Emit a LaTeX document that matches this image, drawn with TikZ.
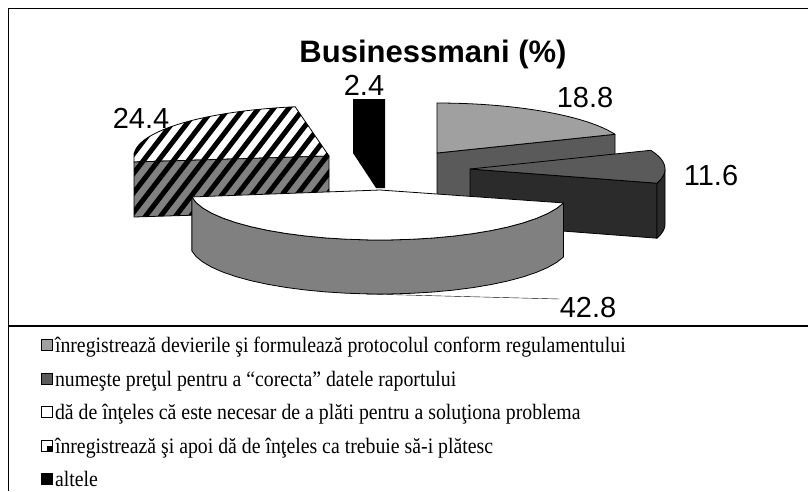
\documentclass[tikz,border=0pt]{standalone}
\usepackage{fontspec}
\setmainfont{Liberation Serif}
\newfontfamily\arialfont{Liberation Sans}
\usepackage{tikz}
\usetikzlibrary{positioning}

\definecolor{sliceA}{HTML}{A0A0A0}
\definecolor{sliceB}{HTML}{5A5A5A}
\definecolor{sliceBdark}{HTML}{2B2B2B}
\definecolor{sliceC}{HTML}{808080}

\newcommand{\legstr}[1]{\scalebox{0.9}[1]{#1}}

\begin{document}
\begin{tikzpicture}[x=1pt,y=-1pt,
		slice/.style={draw=black, line width=0.8pt, line join=round},
		stripe/.style={line width=5pt, black},
		numlabel/.style={font=\arialfont\fontsize{29}{29}\selectfont, anchor=base, inner sep=0pt},
		legbox/.style={draw=black, line width=0.6pt, minimum size=11pt, inner sep=0pt},
		legtext/.style={font=\fontsize{22}{22}\selectfont, inner sep=0pt, text height=15.5pt, text depth=0pt}
	]
		\useasboundingbox (0,0) rectangle (808,491);
		
		% frame
		\draw [line width=1.6pt] (808,8.5) -- (8.5,8.5) -- (8.5,491);
		\draw [line width=1.2pt] (8.5,326) -- (808,326);
		
		\node [font=\arialfont\bfseries\fontsize{31}{31}\selectfont, anchor=base] (title) at (433,62) {Businessmani (\%)};
		
		% hatched slice, top face
		\begin{scope}
			\clip (329,156) -- (134,162) -- (134,153) -- plot[domain=183:260] ({329+195*cos(\x)},{156+50*sin(\x)}) -- cycle;
			\fill [white] (120,95) rectangle (340,170);
			\foreach \i in {0,...,22} \draw [stripe] (30+\i*15,230) -- ++(100,-130);
		\end{scope}
		\draw [slice] (329,156) -- (134,162) -- (134,153) -- plot[domain=183:260] ({329+195*cos(\x)},{156+50*sin(\x)}) -- cycle;
		
		% hatched slice, front face
		\begin{scope}
			\clip (134,162) -- (329,156) -- (329,211) -- (134,217) -- cycle;
			\fill [sliceC] (120,150) rectangle (340,220);
			\foreach \i in {0,...,22} \draw [stripe] (30+\i*15,230) -- ++(100,-130);
		\end{scope}
		\draw [slice] (134,162) -- (329,156) -- (329,211) -- (134,217) -- cycle;
		
		% black slice
		\fill [black] (353,99) -- (385,99) -- (385,188) -- (376,188) -- (353,153) -- cycle;
		
		% light gray slice
		\draw [slice, fill=sliceB] (437,153) -- (615,134.3) -- (615,189.3) -- (437,208) -- cycle;
		\draw [slice, fill=sliceA] (437,153) -- plot[domain=270:338] ({437+192*cos(\x)},{153+50*sin(\x)}) -- cycle;
		
		% dark slice
		\draw [slice, fill=sliceBdark] (470,169) -- (657,183.2) -- (657,238.2) -- (470,224) -- cycle;
		\draw [slice, fill=sliceBdark] plot[domain=0:16.5] ({470+195*cos(\x)},{169+50*sin(\x)}) -- plot[domain=16.5:0] ({470+195*cos(\x)},{224+50*sin(\x)}) -- cycle;
		\draw [slice, fill=sliceB] (470,169) -- plot[domain=-22:16.5] ({470+195*cos(\x)},{169+50*sin(\x)}) -- cycle;
		
		% white slice
		\draw [slice, fill=sliceC] plot[domain=15:172] ({380+190*cos(\x)},{190+50*sin(\x)}) -- plot[domain=172:15] ({380+190*cos(\x)},{244+50*sin(\x)}) -- cycle;
		\draw [slice, fill=white] (380,190) -- plot[domain=15:172] ({380+190*cos(\x)},{190+50*sin(\x)}) -- cycle;
		
		% labels
		\node [numlabel] (lbl24) at (364,95) {2.4};
		\node [numlabel] (lbl244) at (141,128) {24.4};
		\node [numlabel] (lbl188) at (585,107) {18.8};
		\node [numlabel] (lbl116) at (711,185) {11.6};
		\node [numlabel] (lbl428) at (588,317) {42.8};
		\coordinate (lead428) at (366,294);
		\draw [thin] (lead428) -- (lbl428.west |- 0,299);
		
		% legend
		\node [legbox, fill=sliceA] (sw1) at (46.5,345) {};
		\node [legbox, fill=sliceB] (sw2) at (46.5,378.5) {};
		\node [legbox, fill=white] (sw3) at (46.5,412) {};
		\node [legbox, fill=white] (sw4) at (46.5,445.5) {};
		\fill [black] (sw4.center) rectangle (sw4.south east);
		\node [legbox, fill=black] (sw5) at (46.5,479) {};
		
		\node [legtext, right=2.5pt of sw1] (leg1) {\legstr{înregistrează devierile şi formulează protocolul conform regulamentului}};
		\node [legtext, right=2.5pt of sw2] (leg2) {\legstr{numeşte preţul pentru a “corecta” datele raportului}};
		\node [legtext, right=2.5pt of sw3] (leg3) {\legstr{dă de înţeles că este necesar de a plăti pentru a soluţiona problema}};
		\node [legtext, right=2.5pt of sw4] (leg4) {\legstr{înregistrează şi apoi dă de înţeles ca trebuie să-i plătesc}};
		\node [legtext, right=2.5pt of sw5] (leg5) {\legstr{altele}};
\end{tikzpicture}
\end{document}
